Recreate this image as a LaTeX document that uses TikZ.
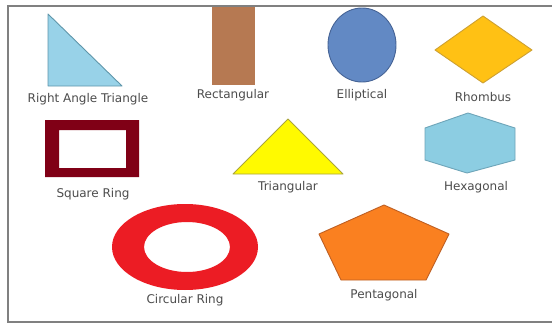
\documentclass[tikz,border=0pt]{standalone}
\usepackage{fontspec}
\setmainfont{DejaVu Sans}
\definecolor{skyfill}{RGB}{152,210,232}
\definecolor{skyline}{RGB}{95,150,170}
\definecolor{brownfill}{RGB}{182,121,82}
\definecolor{bluefill}{RGB}{98,137,196}
\definecolor{blueline}{RGB}{70,100,150}
\definecolor{ambfill}{RGB}{255,193,20}
\definecolor{ambline}{RGB}{205,160,50}
\definecolor{maroon}{RGB}{128,0,22}
\definecolor{yelfill}{RGB}{255,250,0}
\definecolor{yelline}{RGB}{170,165,60}
\definecolor{hexfill}{RGB}{140,205,226}
\definecolor{hexline}{RGB}{110,165,185}
\definecolor{ringred}{RGB}{236,28,36}
\definecolor{orafill}{RGB}{250,128,32}
\definecolor{oraline}{RGB}{190,95,35}
\tikzset{
  shp/.style = {line width=0.9pt, line join=round},
  lbl/.style = {font=\fontsize{12}{14}\selectfont, text=black!70, inner sep=0pt}
}

\begin{document}
\begin{tikzpicture}[x=1pt,y=-1pt]
\useasboundingbox (0,0) rectangle (552,324);
\fill[white] (0,0) rectangle (552,324);

% right angle triangle
\coordinate (A) at (48,14);
\coordinate (B) at (48,86);
\coordinate (C) at (122,86);
\draw[shp, draw=skyline, fill=skyfill] (A)--(B)--(C)--cycle;
\node[lbl] (ratxt) at (88,99) {Right Angle Triangle};

% rectangle
\fill[brownfill] (212,6) rectangle (255,85);
\node[lbl] (rectxt) at (233,95) {Rectangular};

% ellipse
\draw[shp, draw=blueline, fill=bluefill] (362,45) ellipse [x radius=34, y radius=37];
\node[lbl] (elltxt) at (362,95) {Elliptical};

% rhombus
\draw[shp, draw=ambline, fill=ambfill] (435,50)--(483,16)--(532,50)--(483,83)--cycle;
\node[lbl] (rhotxt) at (483,97) {Rhombus};

% square ring
\fill[maroon, even odd rule] (45,120) rectangle (139,177) (59,130) rectangle (126,168);
\node[lbl] (sqtxt) at (93,194) {Square Ring};

% triangle
\draw[shp, draw=yelline, fill=yelfill] (233,174)--(288,119)--(343,174)--cycle;
\node[lbl] (tritxt) at (288,187) {Triangular};

% hexagon
\draw[shp, draw=hexline, fill=hexfill]
  (468,113)--(515,128)--(515,160)--(467,173)--(425,160)--(425,128)--cycle;
\node[lbl] (hextxt) at (476,187) {Hexagonal};

% circular ring
\fill[ringred, even odd rule] (185,247) ellipse [x radius=73, y radius=43]
  (187,247) ellipse [x radius=43, y radius=25];
\node[lbl] (crtxt) at (185,300) {Circular Ring};

% pentagon
\draw[shp, draw=oraline, fill=orafill]
  (384,205)--(449,234)--(426,280)--(341,280)--(319,234)--cycle;
\node[lbl] (pentxt) at (384,295) {Pentagonal};

% frame
\draw[gray, line width=2pt] (552,6) -- (8,6) -- (8,322) -- (552,322);
\end{tikzpicture}
\end{document}
